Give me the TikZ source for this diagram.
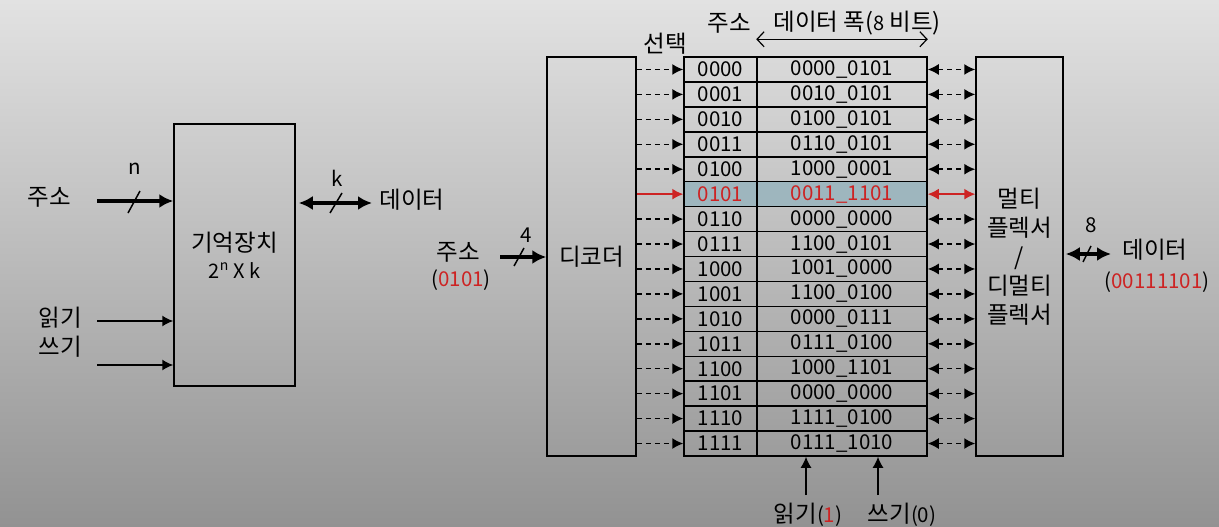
\documentclass[tikz,border=0pt]{standalone}
\usepackage{fontspec}
\setmainfont{Noto Sans CJK KR}
\usetikzlibrary{arrows.meta}
\definecolor{bgtop}{RGB}{226,226,226}
\definecolor{bgbottom}{RGB}{146,146,146}
\definecolor{selfill}{RGB}{158,182,190}
\definecolor{hot}{RGB}{205,35,35}
\newcommand{\kor}{\fontsize{23.5}{29}\selectfont}
\newcommand{\digits}{\fontsize{20.5}{24}\selectfont}

\begin{document}
\begin{tikzpicture}[x=1pt, y=-1pt, line width=1.5pt, >={Latex[length=11pt,width=11pt]}]
    \tikzstyle{block} = [rectangle, draw, inner sep=0pt]
    \tikzstyle{txt} = [font=\kor, inner sep=0pt]
    \tikzstyle{small} = [font=\digits, inner sep=0pt]
    \tikzstyle{addrcell} = [rectangle, draw, minimum width=73pt, minimum height=24.9375pt, inner sep=0pt, font=\digits]
    \tikzstyle{datacell} = [addrcell, minimum width=170pt]
    \tikzstyle{bus} = [line width=4pt, -{Latex[length=14pt,width=14pt]}]
    \tikzstyle{duplexbus} = [line width=4pt, {Latex[length=14pt,width=14pt]}-{Latex[length=14pt,width=14pt]}]
    \tikzstyle{wordline} = [->, dash pattern=on 5pt off 4pt]
    \tikzstyle{bitline} = [<->, dash pattern=on 5pt off 4pt]

    % Background
    \shade [top color=bgtop, bottom color=bgbottom] (0,0) rectangle (1219,527);

    % Memory unit
    \node [block, minimum width=121pt, minimum height=262pt, font=\kor, align=center] (mem) at (234.5,255) {기억장치\\[-2pt]{\fontsize{20}{24}\selectfont 2\textsuperscript{n} X k}};
    \node [txt] (addrlbl) at (49,197) {주소};
    \node [txt] (datalbl) at (412,200) {데이터};
    \node [txt] (rdlbl) at (60,318) {읽기};
    \node [txt] (wrlbl) at (60,347) {쓰기};
    \coordinate (addrin) at (97,201);
    \coordinate (dataout) at (372,203);
    \coordinate (rdin) at (97,321);
    \coordinate (wrin) at (97,365);
    \draw [bus] (addrin) -- (addrin -| mem.west);
    \draw [duplexbus, shorten <=3pt] (dataout -| mem.east) -- (dataout);
    \draw [->] (rdin) -- (rdin -| mem.west);
    \draw [->] (wrin) -- (wrin -| mem.west);
    \draw (128,213) -- (140,191);
    \draw (330,213) -- (342,193);
    \node [small] (nbits) at (135,169) {n};
    \node [small] (kbits) at (337,178) {k};

    % Decoder and multiplexer
    \node [block, minimum width=89pt, minimum height=399pt, font=\kor] (dec) at (591.5,256.5) {디코더};
    \node [block, minimum width=87pt, minimum height=399pt, font=\kor, align=center] (mux) at (1019.5,256.5) {멀티\\플렉서\\/\\디멀티\\플렉서};

    % Address table
    \foreach \a/\d [count=\i from 0] in {0000/0000\_0101, 0001/0010\_0101, 0010/0100\_0101, 0011/0110\_0101, 0100/1000\_0001, 0101/0011\_1101, 0110/0000\_0000, 0111/1100\_0101, 1000/1001\_0000, 1001/1100\_0100, 1010/0000\_0111, 1011/0111\_0100, 1100/1000\_1101, 1101/0000\_0000, 1110/1111\_0100, 1111/0111\_1010} {
        \ifnum\i=5 \def\ink{hot}\def\bg{selfill}\else \def\ink{black}\def\bg{none}\fi
        \node [addrcell, fill=\bg, text=\ink] (a\i) at (720.5,{57+24.9375*(\i+0.5)}) {\a};
        \node [datacell, fill=\bg, text=\ink] (d\i) at (842,{57+24.9375*(\i+0.5)}) {\d};
        \ifnum\i=5 \else
            \draw [wordline] (dec.east |- a\i) -- (a\i.west);
            \draw [bitline] (d\i.east) -- (mux.west |- d\i);
        \fi
    }
    \draw [->, hot] (dec.east |- a5) -- (a5.west);
    \draw [<->, hot] (d5.east) -- (mux.west |- d5);

    % Table header
    \node [txt] (hdraddr) at (729,23) {주소};
    \node [txt] (hdrwidth) at (857,23) {데이터 폭({\fontsize{20}{24}\selectfont 8} 비트)};
    \node [txt] (sel) at (665,44) {선택};
    \draw [line width=1.2pt, {Straight Barb[length=7pt,width=15pt]}-{Straight Barb[length=7pt,width=15pt]}] ([yshift=17pt]d0.north west) -- ([yshift=17pt]d0.north east);

    % Decoder input
    \node [txt] (decaddr) at (458,252) {주소};
    \node [small] (decval) at (461,280) {(\textcolor{hot}{0101})};
    \coordinate (decin) at (500,257);
    \draw [bus, line width=3.5pt] (decin) -- (decin -| dec.west);
    \draw (514,266) -- (524,248);
    \node [small] (decbits) at (526,235) {4};

    % Data output
    \node [txt] (outlbl) at (1155,250) {데이터};
    \node [small] (outval) at (1157,282) {(\textcolor{hot}{00111101})};
    \coordinate (muxout) at (1111,254);
    \draw [duplexbus, line width=3.5pt, shorten <=2pt] (mux.east |- muxout) -- (muxout);
    \draw (1083,262) -- (1091,246);
    \node [small] (outbits) at (1091,225) {8};

    % Read / write control
    \node [txt] (rdctl) at (808,515) {읽기{\digits(\textcolor{hot}{1})}};
    \node [txt] (wrctl) at (902,515) {쓰기{\digits(0)}};
    \coordinate (rdup) at (806,495);
    \coordinate (wrup) at (878,495);
    \draw [->] (rdup) -- (rdup |- d15.south);
    \draw [->] (wrup) -- (wrup |- d15.south);
\end{tikzpicture}
\end{document}
